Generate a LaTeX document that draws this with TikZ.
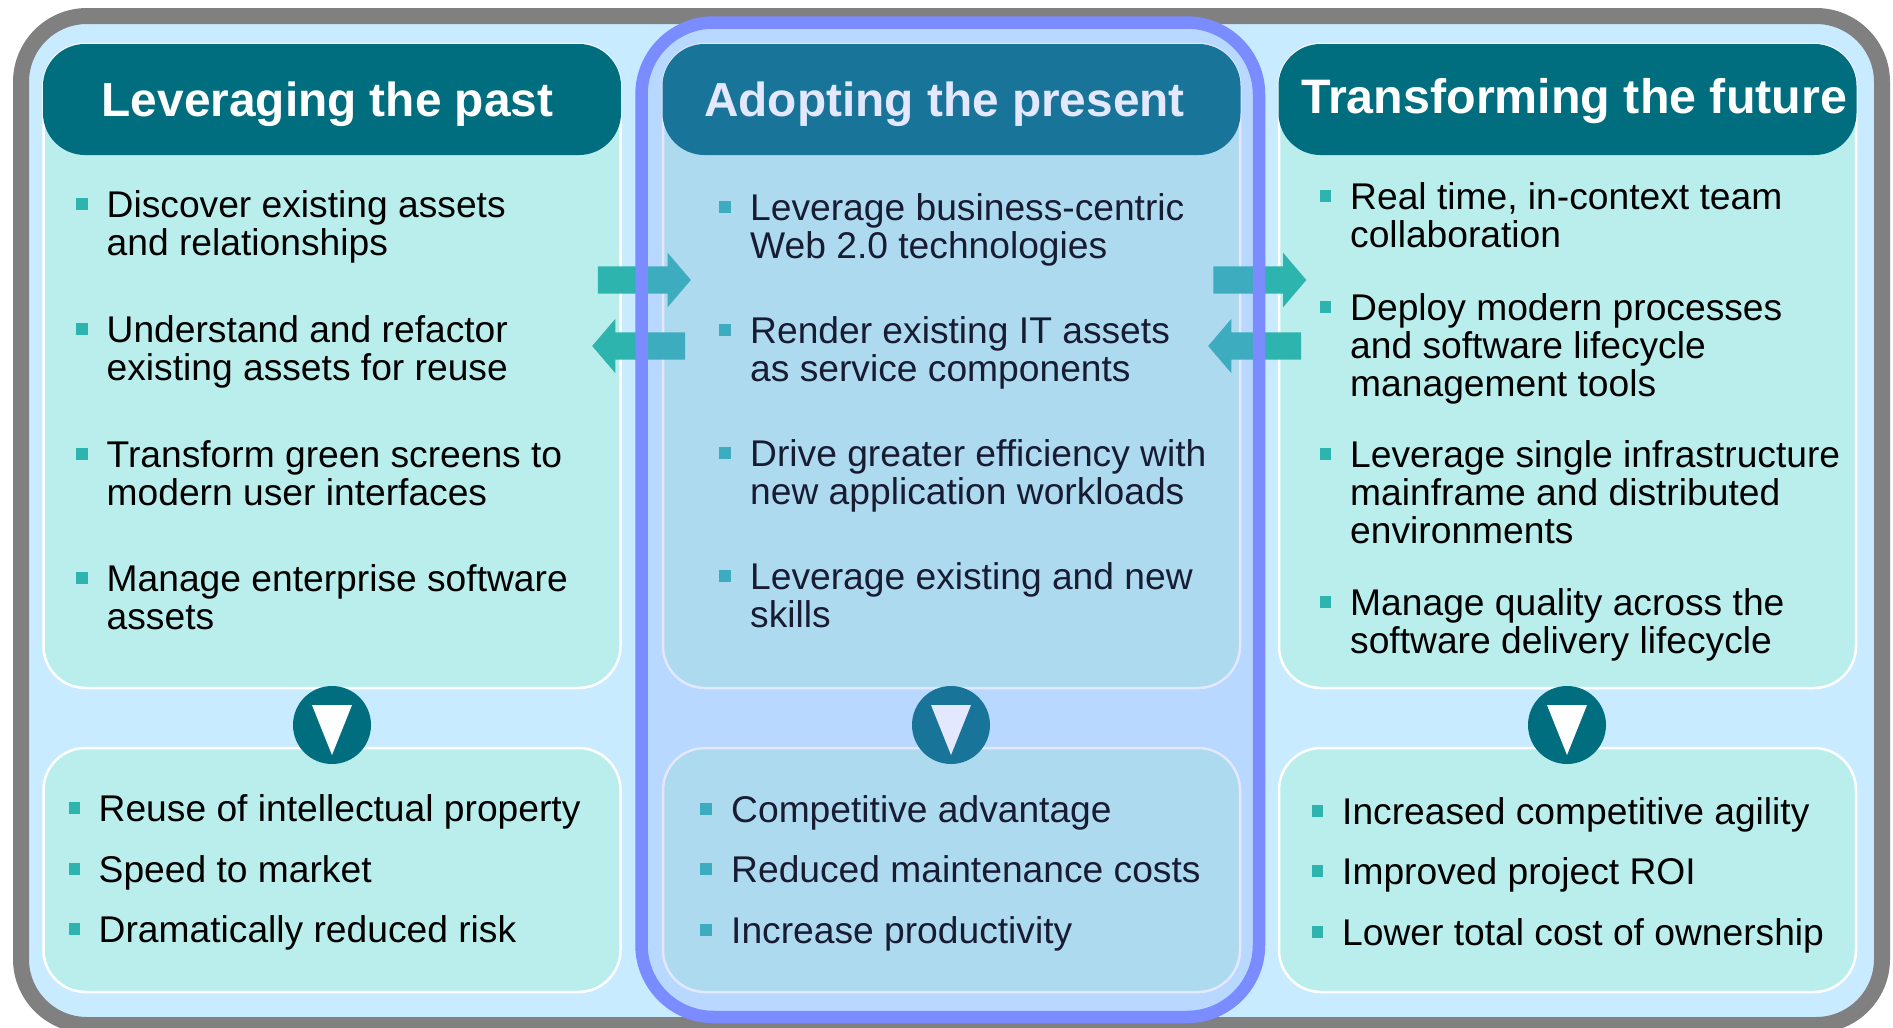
\documentclass[tikz,border=0pt]{standalone}
\usepackage{fontspec}
\setmainfont{Liberation Sans}
\usetikzlibrary{shapes.arrows}
\definecolor{bgblue}{HTML}{C9EBFF}
\definecolor{framegray}{HTML}{808080}
\definecolor{panelcol}{HTML}{BAEEEC}
\definecolor{headcol}{HTML}{006E7F}
\definecolor{tealcol}{HTML}{2DB4AE}
\definecolor{hilite}{HTML}{7A8CFF}
\tikzset{
  panel/.style={draw=white,line width=2.5pt,fill=panelcol,rounded corners=42pt,minimum width=577pt,inner sep=0pt},
  headbox/.style={fill=headcol,rounded corners=42pt,minimum width=578pt,minimum height=111pt,inner sep=0pt},
  headtxt/.style={anchor=base west,inner sep=0pt,text=white,font=\fontsize{47.8}{50}\selectfont\bfseries},
  txt/.style={anchor=north west,inner sep=0pt,align=left,yshift=30.2pt,font=\fontsize{37.2}{38}\selectfont},
  bull/.style={fill=tealcol,minimum size=11.5pt,inner sep=0pt},
  blockr/.style={single arrow,fill=tealcol,inner xsep=0pt,inner ysep=13.5pt,single arrow head extend=13.5pt,single arrow tip angle=99,single arrow head indent=0pt,minimum height=93pt},
  blockl/.style={blockr,shape border rotate=180},
  disc/.style={circle,fill=headcol,minimum size=78pt,inner sep=0pt},
  tri/.style={fill=white}
}
\newcommand{\itm}[5]{%
  \node[bull] (b#1) at (#2,#4-13) {};
  \node[txt] (t#1) at (#3,#4) {\leavevmode\vrule height 30pt depth 0pt width 0pt\relax #5};}
\begin{document}
\begin{tikzpicture}[x=1pt,y=-1pt]
\useasboundingbox (0,0) rectangle (1893,1028);
\clip (0,0) rectangle (1893,1028);
\fill[white] (0,0) rectangle (1893,1028);
% frame
\node[draw=framegray,line width=16pt,fill=bgblue,rounded corners=66pt,minimum width=1861pt,minimum height=1009pt,inner sep=0pt] (frame) at (951.5,520.5) {};
% panels
\node[panel,minimum height=644pt] (pl) at (332,366) {};
\node[panel,minimum height=644pt] (pm) at (951.5,366) {};
\node[panel,minimum height=644pt] (pr) at (1567.5,366) {};
\node[panel,minimum height=244pt] (ql) at (332,870) {};
\node[panel,minimum height=244pt] (qm) at (951.5,870) {};
\node[panel,minimum height=244pt] (qr) at (1567.5,870) {};
% heads
\node[headbox] (hl) at (332,99.5) {};
\node[headbox] (hm) at (951.5,99.5) {};
\node[headbox] (hr) at (1567.5,99.5) {};
\node[headtxt] (hlt) at (101.5,116) {Leveraging the past};
\node[headtxt] (hmt) at (704,116) {Adopting the present};
\node[headtxt,font=\fontsize{48.4}{50}\selectfont\bfseries] (hrt) at (1301,113) {Transforming the future};
% left items
\itm{a1}{82}{106.5}{217}{Discover existing assets\\and relationships}
\itm{a2}{82}{106.5}{342}{Understand and refactor\\existing assets for reuse}
\itm{a3}{82}{106.5}{467}{Transform green screens to\\modern user interfaces}
\itm{a4}{82}{106.5}{591}{Manage enterprise software\\assets}
% middle items
\itm{b1}{725}{750}{220}{Leverage business-centric\\Web 2.0 technologies}
\itm{b2}{725}{750}{343}{Render existing IT assets\\as service components}
\itm{b3}{725}{750}{466}{Drive greater efficiency with\\new application workloads}
\itm{b4}{725}{750}{589}{Leverage existing and new\\skills}
% right items
\itm{c1}{1325.5}{1350}{209}{Real time, in-context team\\collaboration}
\itm{c2}{1325.5}{1350}{320}{Deploy modern processes\\and software lifecycle\\management tools}
\itm{c3}{1325.5}{1350}{467}{Leverage single infrastructure\\mainframe and distributed\\environments}
\itm{c4}{1325.5}{1350}{615}{Manage quality across the\\software delivery lifecycle}
% lower items
\itm{d1}{74.5}{98.5}{821}{Reuse of intellectual property}
\itm{d2}{74.5}{98.5}{882}{Speed to market}
\itm{d3}{74.5}{98.5}{942}{Dramatically reduced risk}
\itm{e1}{706}{731}{822}{Competitive advantage}
\itm{e2}{706}{731}{882}{Reduced maintenance costs}
\itm{e3}{706}{731}{943}{Increase productivity}
\itm{f1}{1317.5}{1342}{824}{Increased competitive agility}
\itm{f2}{1317.5}{1342}{884}{Improved project ROI}
\itm{f3}{1317.5}{1342}{945}{Lower total cost of ownership}
% block arrows
\node[blockr] (ar1) at (638.5,280) {};
\node[blockl] (al1) at (644.5,346) {};
\node[blockr] (ar2) at (1254,280) {};
\node[blockl] (al2) at (1260.5,346) {};
% discs
\foreach \n/\cx in {l/332,m/951,r/1567}{
  \node[disc] (d\n) at (\cx,725) {};
  \fill[tri] ([shift={(-20pt,20pt)}]d\n.center) -- ([shift={(20pt,20pt)}]d\n.center) -- ([shift={(0pt,-30pt)}]d\n.center) -- cycle;
}
% highlight
\fill[hilite,opacity=0.2,rounded corners=72pt] (641.5,22.5) rectangle (1259,1017);
\draw[hilite,line width=12.5pt,rounded corners=72pt] (641.5,22.5) rectangle (1259,1017);
\end{tikzpicture}
\end{document}
